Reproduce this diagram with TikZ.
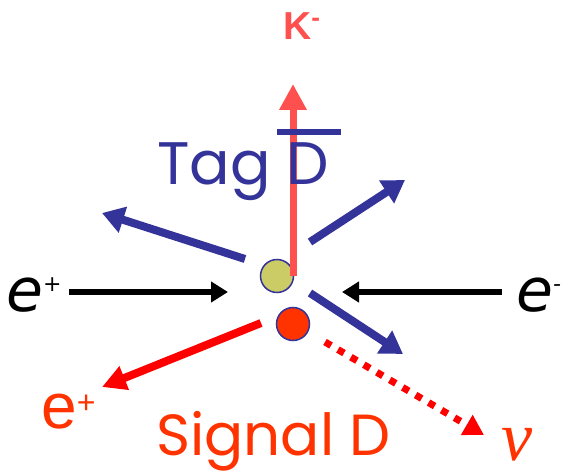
\documentclass[tikz,border=0pt]{standalone}
\usepackage{fontspec}
\usetikzlibrary{arrows.meta}
\newfontfamily\comicf{Poppins}
\newfontfamily\eitf{DejaVu Sans}
\newfontfamily\arialf{Liberation Sans}
\newfontfamily\timesf{Liberation Serif}
\definecolor{tagblue}{HTML}{333399}
\definecolor{kred}{HTML}{FF5050}
\definecolor{sigred}{HTML}{FF0000}
\definecolor{sigorange}{HTML}{FF3300}
\definecolor{dyellow}{HTML}{CCCC66}
\tikzset{
  bluearrow/.style={draw=tagblue, line width=8pt, -{Triangle[width=26pt,length=22pt]}},
  beamarrow/.style={draw=black, line width=5.5pt, -{Triangle[width=20pt,length=17pt]}},
  karrow/.style={draw=kred, line width=7pt, -{Triangle[width=26pt,length=26pt]}},
  redarrow/.style={draw=sigred, line width=8pt, -{Triangle[width=24pt,length=24pt]}},
  nuarrow/.style={draw=sigred, line width=7pt, dash pattern=on 7pt off 8pt, -{Triangle[width=22pt,length=20pt]}},
  dball/.style={circle, minimum size=33pt, inner sep=0pt, draw=tagblue, line width=1.5pt},
  bigtext/.style={inner sep=0pt, anchor=base west},
}
\begin{document}
\begin{tikzpicture}[x=1pt,y=-1pt]
\useasboundingbox (0,0) rectangle (571,476);
% free ends
\coordinate (ul0) at (245,259); \coordinate (ul1) at (102,213);
\coordinate (ur0) at (310,242); \coordinate (ur1) at (405,180);
\coordinate (lr0) at (310,293); \coordinate (lr1) at (403,354);
\coordinate (k0) at (293,276);  \coordinate (k1) at (293,84);
\coordinate (bl0) at (69,292);  \coordinate (bl1) at (228,292);
\coordinate (br0) at (502,292); \coordinate (br1) at (342,292);
\coordinate (r0) at (261,323);  \coordinate (r1) at (102,387);
\coordinate (d0) at (325,342);  \coordinate (d1) at (484,435);
\coordinate (ob0) at (277,132); \coordinate (ob1) at (341,132);
% balls
\node[dball, fill=dyellow] (yc) at (277,276) {};
\node[dball, fill=sigorange] (rc) at (293,324) {};
% arrows
\draw[karrow] (k0) -- (k1);
\draw[bluearrow] (ul0) -- (ul1);
\draw[bluearrow] (ur0) -- (ur1);
\draw[bluearrow] (lr0) -- (lr1);
\draw[beamarrow] (bl0) -- (bl1);
\draw[beamarrow] (br0) -- (br1);
\draw[redarrow] (r0) -- (r1);
\draw[nuarrow] (d0) -- (d1);
% overline bar of D
\draw[tagblue, line width=6pt] (ob0) -- (ob1);
% texts
\node[bigtext, text=kred, font=\arialf\bfseries\fontsize{39}{39}\selectfont] (ktxt) at (283,40) {K\raisebox{13pt}{\fontsize{26}{26}\selectfont -}};
\node[bigtext, text=tagblue, font=\comicf\fontsize{60}{60}\selectfont] (tagtxt) at (157,185) {Tag D};
\node[bigtext, text=black, font=\eitf\itshape\fontsize{60}{60}\selectfont] (eptxt) at (6,311) {e\raisebox{20pt}{\fontsize{22}{22}\selectfont +}};
\node[bigtext, text=black, font=\eitf\itshape\fontsize{60}{60}\selectfont] (emtxt) at (516,311) {e\raisebox{20pt}{\fontsize{22}{22}\selectfont -}};
\node[bigtext, text=sigorange, font=\arialf\fontsize{64}{64}\selectfont] (ep2txt) at (41,428) {e\raisebox{15pt}{\fontsize{32}{32}\selectfont +}};
\node[bigtext, text=sigorange, font=\comicf\fontsize{58}{58}\selectfont] (sigtxt) at (156,455) {Signal D};
\node[bigtext, text=sigorange, font=\timesf\itshape\fontsize{70}{70}\selectfont] (nutxt) at (501,460) {ν};
\end{tikzpicture}
\end{document}
